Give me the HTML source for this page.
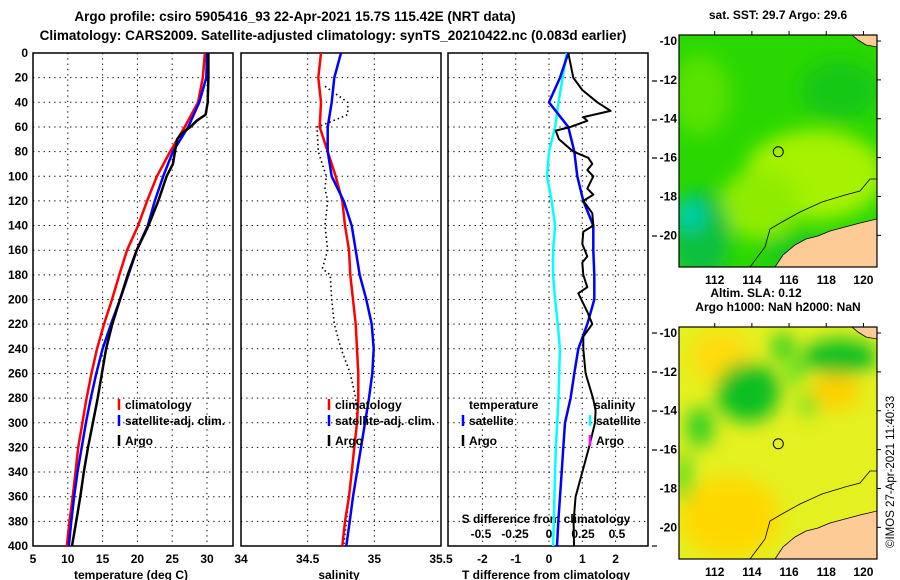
<!DOCTYPE html>
<html><head><meta charset="utf-8">
<style>
body{margin:0;background:#fff;width:900px;height:580px;overflow:hidden}
svg{display:block;font-family:"Liberation Sans",Arial,sans-serif;font-weight:bold}
</style></head>
<body>
<svg id="c" width="900" height="580" viewBox="0 0 900 580">
<defs>
<filter id="blur8" x="-20%" y="-20%" width="140%" height="140%"><feGaussianBlur stdDeviation="9"/></filter>
<clipPath id="clipTop"><rect x="679" y="35" width="198" height="232"/></clipPath>
<clipPath id="clipBot"><rect x="679" y="327" width="198" height="232"/></clipPath>
</defs>
<text x="295" y="21" font-size="13.5" text-anchor="middle">Argo profile: csiro 5905416_93 22-Apr-2021 15.7S 115.42E (NRT data)</text>
<text x="333" y="40" font-size="13.5" text-anchor="middle">Climatology: CARS2009. Satellite-adjusted climatology: synTS_20210422.nc (0.083d earlier)</text>
<g id="plots"></g>
<g id="maps"></g>
<text transform="translate(894,548) rotate(-90)" font-size="11.5" font-weight="normal">©IMOS 27-Apr-2021 11:40:33</text>
</svg>
<script>
// ---------- data ----------
const stdDepths = [0,20,40,60,80,100,120,140,160,180,200,220,240,260,280,300,320,340,360,380,400];
const tempClim = [29.7,29.4,28.7,26.8,24.7,22.8,21.4,20.1,18.5,17.4,16.35,15.2,14.2,13.4,12.7,12.1,11.5,11.1,10.7,10.25,9.85];
const tempSat  = [30.0,29.9,28.9,27.3,25.1,23.7,22.5,21.5,19.9,18.7,17.5,16.2,15.0,14.1,13.3,12.6,12.0,11.4,10.9,10.5,10.15];
const argoDepths = [0,20,40,50,55,60,65,70,80,90,100,120,140,160,180,200,220,240,260,280,300,320,340,360,380,400];
const tempArgo  = [30.2,30.2,30.1,29.8,28.5,27.6,26.4,25.7,25.4,25.1,24.2,23.0,21.6,19.9,18.6,17.5,16.4,15.5,14.9,14.3,13.6,12.9,12.3,11.8,11.2,10.6];
const salClim = [34.60,34.58,34.60,34.59,34.65,34.71,34.76,34.78,34.81,34.82,34.84,34.86,34.87,34.88,34.88,34.87,34.85,34.83,34.81,34.78,34.76];
const salSat  = [34.75,34.70,34.68,34.65,34.65,34.68,34.77,34.83,34.86,34.89,34.94,34.98,34.995,34.985,34.96,34.93,34.90,34.87,34.84,34.815,34.79];
const salArgoDepths = [27,40,50,55,60,80,100,110,120,140,160,175,180,200,220,240,260,280,300,340,400];
const salArgo = [34.63,34.80,34.80,34.69,34.57,34.58,34.64,34.63,34.65,34.63,34.65,34.61,34.67,34.68,34.70,34.75,34.82,34.86,34.87,34.83,34.77];
const tDiffSat = [0.58,0.33,0.0,0.58,0.76,0.85,1.03,1.33,1.33,1.36,1.36,1.15,0.88,0.76,0.65,0.48,0.43,0.38,0.33,0.28,0.24];
const sDiffSat = [0.13,0.10,0.07,0.045,0.0,-0.015,0.02,0.045,0.03,0.03,0.045,0.065,0.08,0.075,0.07,0.06,0.05,0.045,0.04,0.035,0.03];
const tDiffArgoDepths = [0,20,30,40,47,52,55,60,63,70,80,85,90,95,100,110,115,120,130,140,145,155,165,170,180,190,195,210,220,230,240,260,280,290,300,320,340,360,380,400];
const tDiffArgo = [0.58,0.73,1.0,1.45,1.85,1.03,1.15,0.64,0.2,0.3,0.73,1.18,1.3,1.15,1.33,1.15,1.33,1.03,1.3,1.33,1.03,1.0,1.15,1.0,1.03,1.15,0.88,1.15,1.3,1.03,1.03,1.1,1.32,1.4,1.38,1.2,1.0,0.8,0.74,0.75];
const depthTicks = [0,20,40,60,80,100,120,140,160,180,200,220,240,260,280,300,320,340,360,380,400];
const tempTicks = [5,10,15,20,25,30];
const salTicks = [34,34.5,35,35.5];
const tdTicks = [-2,-1,0,1,2];
const sdTicks = [-0.5,-0.25,0,0.25,0.5];
const mapLatTicks = [-10,-12,-14,-16,-18,-20];
const mapLonTicks = [112,114,116,118,120];
const argoLon = 115.42, argoLat = -15.7;

// ---------- axes ----------
const Y0=53, Y1=546;
const yD = d => Y0 + d*(Y1-Y0)/400;
const xT = t => 33 + (t-5)*6.96;
const xS = s => 241 + (s-34)*133.33;
const xTD = d => 549 + d*33.3;
const xSD = s => 549 + s*136;
const NS='http://www.w3.org/2000/svg';
const plots=document.getElementById('plots');
function mk(tag,attrs,parent){const e=document.createElementNS(NS,tag);for(const k in attrs)e.setAttribute(k,attrs[k]);(parent||plots).appendChild(e);return e;}
function txt(x,y,s,size,anchor,parent){const e=mk('text',{x:x,y:y,'font-size':size,'text-anchor':anchor||'middle'},parent);e.textContent=s;return e;}

function panel(x0,x1,name,gridXs){
  const g=mk('g',{});
  
  
  depthTicks.slice(1,-1).forEach(d=>mk('line',{x1:x0,x2:x1,y1:yD(d),y2:yD(d),stroke:'#000','stroke-width':1,'stroke-dasharray':'1.3 4'},g));
  gridXs.forEach(x=>mk('line',{x1:x,x2:x,y1:Y0,y2:Y1,stroke:'#000','stroke-width':1,'stroke-dasharray':'1.3 4'},g));
  mk('rect',{x:x0,y:Y0,width:x1-x0,height:Y1-Y0,fill:'none',stroke:'#000','stroke-width':1.5},g);
  return g;
}
function line(xs,ds,fx,color,w,name,dash){
  const pts=xs.map((v,i)=>fx(v).toFixed(1)+','+yD(ds[i]).toFixed(1)).join(' ');
  const p=mk('polyline',{points:pts,fill:'none',stroke:color,'stroke-width':w,'stroke-linejoin':'round'});
  if(dash)p.setAttribute('stroke-dasharray',dash);
  
  
  return p;
}

// Panel 1
panel(33,233,'temperature-panel',tempTicks.slice(1).map(xT));
depthTicks.forEach(d=>{const t=txt(28,yD(d)+4,String(d),12,'end');
  
  });
tempTicks.forEach(t=>{const e=txt(xT(t),563,String(t),12);
  
  });
const tt=txt(131,579,'temperature (deg C)',12);


line(tempClim,stdDepths,xT,'#f00',2.5,'temperature-climatology-line');
line(tempSat,stdDepths,xT,'#00f',2.5,'temperature-satellite-line');
line(tempArgo,argoDepths,xT,'#000',2.5,'temperature-argo-line');

// Panel 2
panel(241,441,'salinity-panel',[xS(34.5),xS(35)]);
salTicks.forEach(s=>{const e=txt(xS(s),563,String(s),12);
  
  });
const st=txt(339,579,'salinity',12);


line(salArgo,salArgoDepths,xS,'#000',1.6,'salinity-argo-line','1.5 3');
line(salClim,stdDepths,xS,'#f00',2.5,'salinity-climatology-line');
line(salSat,stdDepths,xS,'#00f',2.5,'salinity-satellite-line');

// Panel 3
panel(448,648,'difference-panel',tdTicks.map(xTD));
[81,120,158,236,333,372,411,450,546].forEach(y=>mk('line',{x1:652,x2:657,y1:y,y2:y,stroke:'#000','stroke-width':1.2}));
tdTicks.forEach(d=>{const e=txt(xTD(d),563,String(d),12);
  
  });
sdTicks.forEach(s=>{const e=txt(xSD(s),538,String(s),12);
  
  });
const sdt=txt(546,523,'S difference from climatology',12);


const tdt=txt(546,579,'T difference from climatology',12);


line(sDiffSat,stdDepths,xSD,'#0ff',2.5,'salinity-diff-satellite-line');
line(tDiffSat,stdDepths,xTD,'#00f',2.5,'temperature-diff-satellite-line');
line(tDiffArgo,tDiffArgoDepths,xTD,'#000',2,'temperature-diff-argo-line');

// Legends
function legend(x,y,color,label,name){
  const g=mk('g',{});
  
  
  mk('line',{x1:x,x2:x,y1:y-10,y2:y+1,stroke:color,'stroke-width':2.5},g);
  txt(x+6,y,label,12,'start',g);
}
legend(119,409,'#f00','climatology','legend-climatology');
legend(119,425,'#00f','satellite-adj. clim.','legend-satellite');
legend(119,445,'#000','Argo','legend-argo');
legend(329,409,'#f00','climatology','legend-sal-climatology');
legend(329,425,'#00f','satellite-adj. clim.','legend-sal-satellite');
legend(329,445,'#000','Argo','legend-sal-argo');
txt(469,409,'temperature',12,'start');
legend(463,425,'#00f','satellite','legend-tdiff-satellite');
legend(463,445,'#000','Argo','legend-tdiff-argo');
txt(594,409,'salinity',12,'start');
legend(590,425,'#0ff','satellite','legend-sdiff-satellite');
legend(590,445,'#f0f','Argo','legend-sdiff-argo');

// ---------- maps ----------
const maps=document.getElementById('maps');
const LX0=110.08, LX1=120.73, LAT0=-9.69, LAT1=-21.63;
function mapFrame(top,name,title,kind){
  const H=232;
  const mx=lon=>679+(lon-LX0)*198/(LX1-LX0);
  const my=lat=>top+(lat-LAT0)*H/(LAT1-LAT0);
  const g=mk('g',{},maps);
  
  
  const clip=mk('g',{'clip-path':kind==='sst'?'url(#clipTop)':'url(#clipBot)'},g);
  if(kind==='sst'){
    mk('rect',{x:679,y:top,width:198,height:H,fill:'#2ad800'},clip);
    const b=mk('g',{filter:'url(#blur8)'},clip);
    mk('ellipse',{cx:815,cy:top+140,rx:70,ry:45,fill:'#a6f200'},b);
    mk('ellipse',{cx:760,cy:top+170,rx:40,ry:35,fill:'#8fec00'},b);
    mk('ellipse',{cx:840,cy:top+55,rx:40,ry:30,fill:'#12c818'},b);
    mk('ellipse',{cx:700,cy:top+60,rx:30,ry:40,fill:'#58e200'},b);
    mk('ellipse',{cx:700,cy:top+200,rx:30,ry:45,fill:'#10c040'},b);
    mk('ellipse',{cx:690,cy:top+180,rx:14,ry:16,fill:'#00d0b0'},b);
    mk('ellipse',{cx:810,cy:top+215,rx:50,ry:15,fill:'#10c820'},b);
  } else {
    mk('rect',{x:679,y:top,width:198,height:H,fill:'#e4f020'},clip);
    const b=mk('g',{filter:'url(#blur8)'},clip);
    mk('ellipse',{cx:730,cy:top+190,rx:50,ry:40,fill:'#ffd800'},b);
    mk('ellipse',{cx:720,cy:top+30,rx:30,ry:25,fill:'#ffdc10'},b);
    mk('ellipse',{cx:835,cy:top+65,rx:25,ry:18,fill:'#ffd000'},b);
    mk('ellipse',{cx:748,cy:top+65,rx:32,ry:30,fill:'#10c020'},b);
    mk('ellipse',{cx:840,cy:top+30,rx:38,ry:18,fill:'#10c020'},b);
    mk('ellipse',{cx:783,cy:top+20,rx:12,ry:14,fill:'#30d020'},b);
    mk('ellipse',{cx:795,cy:top+45,rx:10,ry:14,fill:'#60e020'},b);
    mk('ellipse',{cx:700,cy:top+100,rx:14,ry:20,fill:'#30d020'},b);
    mk('ellipse',{cx:684,cy:top+150,rx:8,ry:25,fill:'#50d820'},b);
    mk('ellipse',{cx:808,cy:top+78,rx:10,ry:12,fill:'#70e020'},b);
  }
  const land=mk('polygon',{fill:'#fccb96',stroke:'#000','stroke-width':0.8,points:
    [[775,H],[783,H-12],[795,H-22],[806,H-28],[818,H-31],[830,H-36],[845,H-40],[860,H-44],[877,H-48],[877,H+2],[775,H+2]].map(p=>p[0]+','+(top+p[1])).join(' ')},clip);
  
  
  mk('polygon',{fill:'#fccb96',stroke:'#000','stroke-width':0.8,points:[[852,0],[877,0],[877,12],[866,10],[858,5]].map(p=>p[0]+','+(top+p[1])).join(' ')},clip);
  mk('polyline',{fill:'none',stroke:'#000','stroke-width':0.8,points:
    [[750,H],[765,H-20],[770,H-38],[782,H-45],[800,H-55],[822,H-65],[845,H-72],[860,H-76],[870,H-88],[877,H-88]].map(p=>p[0]+','+(top+p[1])).join(' ')},clip);
  mk('rect',{x:679,y:top,width:198,height:H,fill:'none',stroke:'#000','stroke-width':1.2},g);
  const c=mk('circle',{cx:mx(argoLon),cy:my(argoLat),r:5,fill:'none',stroke:'#000','stroke-width':1},g);
  
  
  mapLatTicks.forEach(l=>{txt(677,my(l)+4,String(l),12,'end',g);
    mk('line',{x1:877,x2:881,y1:my(l),y2:my(l),stroke:'#000'},g);});
  mapLonTicks.forEach(l=>{txt(mx(l),top+H+17,String(l),12,'middle',g);
    mk('line',{x1:mx(l),x2:mx(l),y1:top,y2:top-4,stroke:'#000'},g);});
  const t=txt(778,top-16,title,12,'middle',g);
  
  
}
mapFrame(35,'sst-map','sat. SST: 29.7 Argo: 29.6','sst');
mapFrame(327,'sla-map','Argo h1000: NaN h2000: NaN','sla');
const sla=txt(756,297,'Altim. SLA: 0.12',12,'middle',maps);


</script>
</body></html>
